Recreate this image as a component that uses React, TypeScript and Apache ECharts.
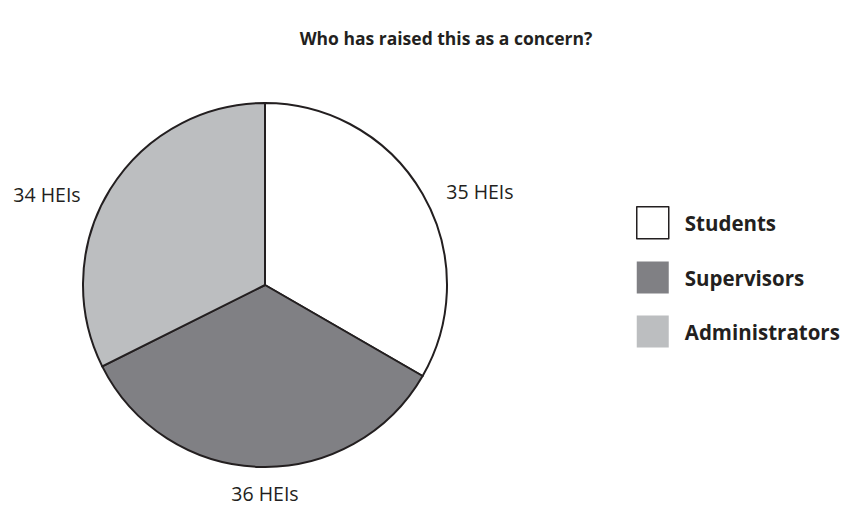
import React, { useEffect, useRef } from "react";
import * as echarts from "echarts";

const categories = ["Students", "Supervisors", "Administrators"];
const values = [35, 36, 34];
const colors = ["#ffffff", "#808084", "#bcbec0"];
const titleText = "Who has raised this as a concern?";

export default function App() {
  const ref = useRef<HTMLDivElement>(null);
  useEffect(() => {
    const chart = echarts.init(ref.current!, null, { renderer: "svg" });
    const font = "'Open Sans', 'Noto Sans', sans-serif";
    const cx = 265;
    chart.setOption({
      animation: false,
      backgroundColor: "#ffffff",
      title: {
        text: titleText,
        left: 441,
        textAlign: "center",
        top: 24,
        textStyle: { fontFamily: font, fontWeight: "bold", fontSize: 17.5, color: "#231f20" },
      },
      legend: {
        orient: "vertical",
        left: 631,
        top: 201,
        itemWidth: 32,
        itemHeight: 32,
        itemGap: 22,
        icon: "rect",
        selectedMode: false,
        textStyle: { fontFamily: font, fontWeight: "bold", fontSize: 20.5, color: "#231f20", padding: [0, 0, 0, 11] },
        data: categories.map((c, i) => ({
          name: c,
          itemStyle: { color: colors[i], borderColor: i === 0 ? "#231f20" : colors[i], borderWidth: i === 0 ? 1.5 : 0 },
        })),
      },
      series: [
        {
          type: "pie",
          center: [cx, 285],
          radius: [0, 182],
          startAngle: 90,
          clockwise: true,
          data: categories.map((c, i) => ({ name: c, value: values[i], itemStyle: { color: colors[i] } })),
          itemStyle: { borderColor: "#231f20", borderWidth: 2 },
          emphasis: { disabled: true },
          label: {
            show: true,
            position: "outside",
            formatter: "{c} HEIs",
            fontFamily: font,
            fontSize: 19.5,
            color: "#231f20",
          },
          labelLine: { show: false, length: 10, length2: 16 },
          labelLayout: (p: any) => {
            if (p.dataIndex === 1) return { x: cx, y: 493, align: "center", verticalAlign: "middle" };
            if (p.dataIndex === 0) return { dx: -6, dy: 2 };
            return { dy: 10 };
          },
        },
      ],
    });
    return () => chart.dispose();
  }, []);
  return <div ref={ref} style={{ width: 845, height: 506, position: "absolute", left: 0, top: 0 }} />;
}
